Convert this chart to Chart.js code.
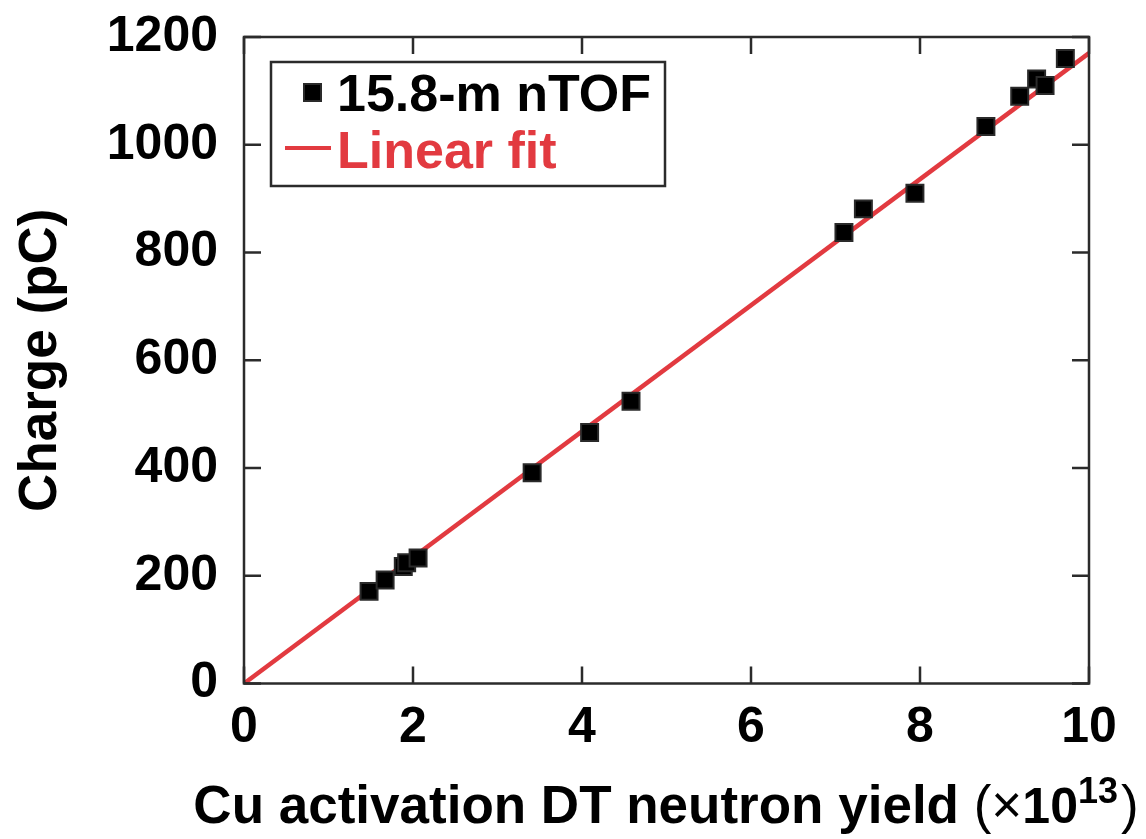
<!DOCTYPE html>
<html>
<head>
<meta charset="utf-8">
<script src="https://cdn.jsdelivr.net/npm/chart.js@4.4.1/dist/chart.umd.min.js"></script>
<style>
  html, body { margin: 0; padding: 0; background: #fff; }
  #wrap { width: 1146px; height: 839px; }
</style>
</head>
<body>
<div id="wrap"><canvas id="chargeChart" width="1146" height="839"></canvas></div>
<script>
// measured nTOF points (yield in 1e13, charge in pC)
const yieldX = [1.48, 1.67, 1.885, 1.925, 2.06, 3.41, 4.09, 4.58, 7.10, 7.33, 7.94, 8.78, 9.18, 9.38, 9.48, 9.72];
const chargeY = [171, 192, 217, 224, 233, 391, 466, 524, 837, 881, 910, 1034, 1090, 1122, 1110, 1160];

// linear fit through origin
const fitX = [0, 10];
const fitY = [0, 1170];

const xTicks = [0, 2, 4, 6, 8, 10];
const yTicks = [0, 200, 400, 600, 800, 1000, 1200];

const RED = "#e23a40";
const FRAME = "#2b2b2b";
const FONT = "'Liberation Sans', Arial, Helvetica, sans-serif";

document.addEventListener("DOMContentLoaded", function () {
    const ctx = document.getElementById("chargeChart").getContext("2d");

    // box frame + inward ticks on all four sides
    const framePlugin = {
        id: "frame",
        afterDatasetsDraw(chart) {
            const a = chart.chartArea;
            const c = chart.ctx;
            const xs = chart.scales.x, ys = chart.scales.y;
            const len = 17;
            c.save();
            c.strokeStyle = FRAME;
            c.lineWidth = 2.5;
            c.beginPath();
            xTicks.forEach(function (v) {
                const px = xs.getPixelForValue(v);
                c.moveTo(px, a.bottom); c.lineTo(px, a.bottom - len);
                c.moveTo(px, a.top); c.lineTo(px, a.top + len);
            });
            yTicks.forEach(function (v) {
                const py = ys.getPixelForValue(v);
                c.moveTo(a.left, py); c.lineTo(a.left + len, py);
                c.moveTo(a.right, py); c.lineTo(a.right - len, py);
            });
            c.stroke();
            c.strokeRect(a.left, a.top, a.right - a.left, a.bottom - a.top);
            c.restore();
        }
    };

    // x axis title with a real superscript exponent
    const xTitlePlugin = {
        id: "xTitle",
        afterDraw(chart) {
            const c = chart.ctx;
            const a = chart.chartArea;
            const parts = [
                { t: "Cu activation DT neutron yield ", f: "bold 53px " + FONT, dy: 0 },
                { t: "(", f: "53px " + FONT, dy: 0 },
                { t: "\u00d7", f: "53px " + FONT, dy: 0 },
                { t: "10", f: "bold 50px " + FONT, dy: 0 },
                { t: "13", f: "bold 36px " + FONT, dy: -20 },
                { t: ")", f: "53px " + FONT, dy: 0 }
            ];
            c.save();
            let total = 0;
            parts.forEach(function (p) { c.font = p.f; p.w = c.measureText(p.t).width; total += p.w; });
            let x = (a.left + a.right) / 2 - total / 2 - 2;
            const base = 823;
            c.fillStyle = "#000";
            c.textAlign = "left";
            c.textBaseline = "alphabetic";
            parts.forEach(function (p) {
                c.font = p.f;
                c.fillText(p.t, x, base + p.dy);
                x += p.w + (p.t === "13" ? 3 : 0);
            });
            c.restore();
        }
    };

    // legend box in the upper left of the plot
    const legendPlugin = {
        id: "boxLegend",
        afterDraw(chart) {
            const c = chart.ctx;
            const ds = chart.data.datasets;
            c.save();
            c.fillStyle = "#fff";
            c.fillRect(271, 62, 394, 124);
            c.strokeStyle = FRAME;
            c.lineWidth = 2.5;
            c.strokeRect(271, 62, 394, 124);

            c.font = "bold 52px " + FONT;
            c.textBaseline = "alphabetic";
            c.textAlign = "left";

            // scatter entry
            c.fillStyle = ds[0].backgroundColor;
            c.strokeStyle = ds[0].borderColor;
            c.lineWidth = 2;
            c.fillRect(304, 84, 17, 17);
            c.strokeRect(304, 84, 17, 17);
            c.fillStyle = "#000";
            c.fillText(ds[0].label, 337, 111);

            // line entry
            c.strokeStyle = ds[1].borderColor;
            c.lineWidth = 4;
            c.beginPath();
            c.moveTo(285, 148); c.lineTo(331, 148);
            c.stroke();
            c.fillStyle = ds[1].borderColor;
            c.fillText(ds[1].label, 337, 168);
            c.restore();
        }
    };

    new Chart(ctx, {
        type: "scatter",
        data: {
            datasets: [{
                label: "15.8-m nTOF",
                data: yieldX.map(function (x, i) { return { x: x, y: chargeY[i] }; }),
                pointStyle: "rect",
                pointRadius: 12,
                pointHoverRadius: 12,
                backgroundColor: "#000",
                borderColor: "#2a2a2a",
                borderWidth: 2,
                order: 1
            }, {
                type: "line",
                label: "Linear fit",
                data: fitX.map(function (x, i) { return { x: x, y: fitY[i] }; }),
                borderColor: RED,
                backgroundColor: RED,
                borderWidth: 4.5,
                pointRadius: 0,
                fill: false,
                order: 2
            }]
        },
        options: {
            responsive: false,
            animation: false,
            layout: { padding: { top: 37, right: 57, left: 0, bottom: 0 } },
            plugins: {
                legend: { display: false },
                tooltip: { enabled: false }
            },
            scales: {
                x: {
                    type: "linear",
                    min: 0,
                    max: 10,
                    afterBuildTicks: function (scale) {
                        scale.ticks = xTicks.map(function (v) { return { value: v }; });
                    },
                    afterFit: function (scale) {
                        scale.height = 155.5;
                        scale.paddingLeft = 0;
                        scale.paddingRight = 0;
                    },
                    grid: { display: false, drawTicks: false },
                    border: { display: false },
                    ticks: {
                        color: "#000",
                        padding: 15,
                        maxRotation: 0,
                        callback: function (v) { return String(v); },
                        font: { family: FONT, size: 50, weight: "bold" }
                    },
                    title: { display: false }
                },
                y: {
                    type: "linear",
                    min: 0,
                    max: 1200,
                    afterBuildTicks: function (scale) {
                        scale.ticks = yTicks.map(function (v) { return { value: v }; });
                    },
                    afterFit: function (scale) {
                        scale.width = 244;
                        scale.paddingTop = 0;
                        scale.paddingBottom = 0;
                    },
                    grid: { display: false, drawTicks: false },
                    border: { display: false },
                    ticks: {
                        color: "#000",
                        padding: 26,
                        callback: function (v) { return String(v); },
                        font: { family: FONT, size: 50, weight: "bold" }
                    },
                    title: {
                        display: true,
                        text: "Charge (pC)",
                        color: "#000",
                        padding: { top: 10, bottom: 0 },
                        font: { family: FONT, size: 53, weight: "bold" }
                    }
                }
            }
        },
        plugins: [framePlugin, legendPlugin, xTitlePlugin]
    });
});
</script>
</body>
</html>
